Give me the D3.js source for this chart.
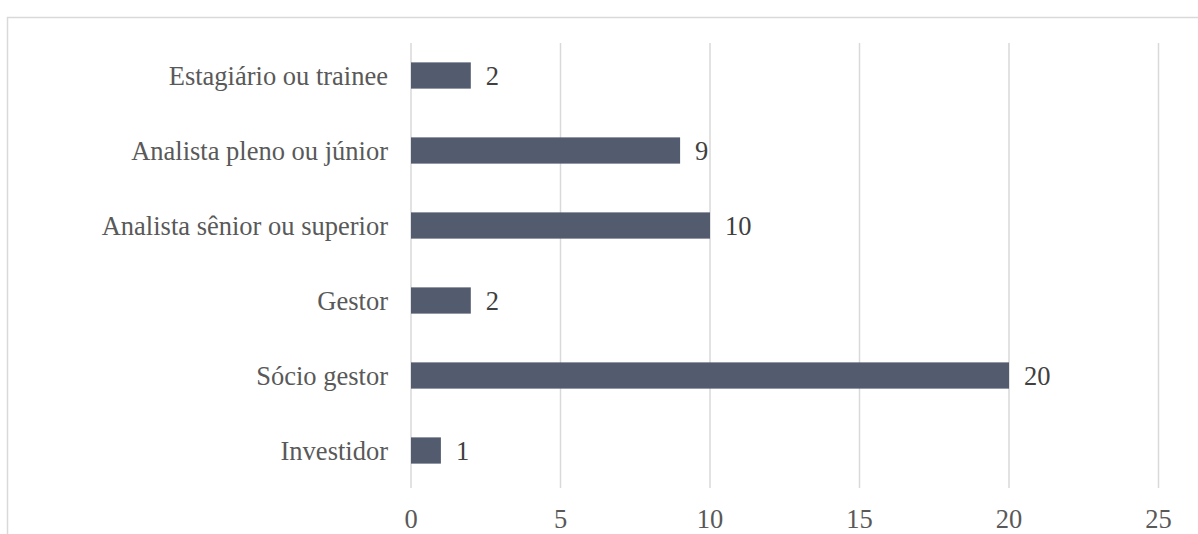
<!DOCTYPE html>
<html>
<head>
<meta charset="utf-8">
<script src="https://cdn.jsdelivr.net/npm/d3@7"></script>
<style>
  body { margin: 0; background: #fff; }
</style>
</head>
<body>
<div id="chart"></div>
<script>
var categories = ["Estagiário ou trainee", "Analista pleno ou júnior", "Analista sênior ou superior", "Gestor", "Sócio gestor", "Investidor"];
var values = [2, 9, 10, 2, 20, 1];
var xTicks = [0, 5, 10, 15, 20, 25];

var width = 1198, height = 534;
var font = "'Times New Roman', 'Liberation Serif', Times, serif";
var fs = 26.5;

var svg = d3.select("#chart").append("svg")
    .attr("width", width)
    .attr("height", height)
    .attr("font-family", font);

// outer frame (cut off at right and bottom)
svg.append("rect")
    .attr("x", 7.5)
    .attr("y", 17.5)
    .attr("width", 1300)
    .attr("height", 600)
    .attr("fill", "none")
    .attr("stroke", "#d9d9d9")
    .attr("stroke-width", 1.5);

var x = d3.scaleLinear()
    .domain([0, 25])
    .range([411, 1158.5]);

var y = d3.scaleBand()
    .domain(categories)
    .range([38, 488])
    .paddingInner(0.65)
    .paddingOuter(0.325);

// gridlines
svg.append("g").selectAll("line")
    .data(xTicks)
    .enter().append("line")
    .attr("x1", function(d) { return x(d); })
    .attr("x2", function(d) { return x(d); })
    .attr("y1", 43)
    .attr("y2", 488)
    .attr("stroke", "#d9d9d9")
    .attr("stroke-width", 1.5);

// tick labels
svg.append("g").selectAll("text")
    .data(xTicks)
    .enter().append("text")
    .attr("x", function(d) { return x(d); })
    .attr("y", 528)
    .attr("text-anchor", "middle")
    .attr("font-size", fs)
    .attr("fill", "#595959")
    .text(function(d) { return d; });

// category labels
svg.append("g").selectAll("text")
    .data(categories)
    .enter().append("text")
    .attr("x", 388)
    .attr("y", function(d) { return y(d) + y.bandwidth() / 2; })
    .attr("dy", ".35em")
    .attr("text-anchor", "end")
    .attr("font-size", fs)
    .attr("fill", "#595959")
    .text(function(d) { return d; });

// bars
svg.append("g").selectAll("rect")
    .data(values)
    .enter().append("rect")
    .attr("x", x(0))
    .attr("y", function(d, i) { return y(categories[i]); })
    .attr("width", function(d) { return x(d) - x(0); })
    .attr("height", y.bandwidth())
    .attr("fill", "#535b6e");

// value labels
svg.append("g").selectAll("text")
    .data(values)
    .enter().append("text")
    .attr("x", function(d) { return x(d) + 15; })
    .attr("y", function(d, i) { return y(categories[i]) + y.bandwidth() / 2; })
    .attr("dy", ".35em")
    .attr("font-size", fs)
    .attr("fill", "#404040")
    .text(function(d) { return d; });
</script>
</body>
</html>
